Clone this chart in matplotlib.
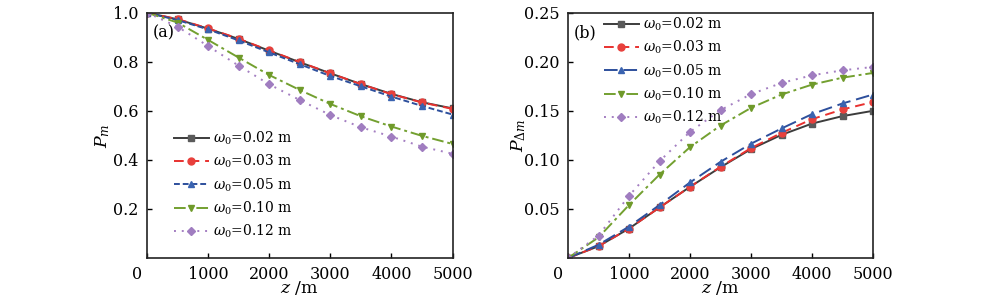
import matplotlib
matplotlib.use("Agg")
import matplotlib.pyplot as plt
import matplotlib.transforms as mtransforms

plt.rcParams['font.family'] = ['DejaVu Serif']
plt.rcParams['mathtext.fontset'] = 'dejavuserif'

z = [0, 500, 1000, 1500, 2000, 2500, 3000, 3500, 4000, 4500, 5000]
labels = [r'$\omega_0$=0.02 m', r'$\omega_0$=0.03 m', r'$\omega_0$=0.05 m',
          r'$\omega_0$=0.10 m', r'$\omega_0$=0.12 m']

# Panel (a): P_m
pm_002 = [1.0, 0.973, 0.935, 0.893, 0.845, 0.798, 0.753, 0.709, 0.669, 0.635, 0.610]
pm_003 = [1.0, 0.974, 0.936, 0.894, 0.846, 0.799, 0.753, 0.709, 0.668, 0.634, 0.608]
pm_005 = [1.0, 0.970, 0.932, 0.887, 0.838, 0.790, 0.742, 0.700, 0.658, 0.620, 0.585]
pm_010 = [1.0, 0.960, 0.889, 0.817, 0.746, 0.685, 0.628, 0.578, 0.536, 0.498, 0.465]
pm_012 = [1.0, 0.943, 0.864, 0.784, 0.708, 0.644, 0.583, 0.533, 0.495, 0.454, 0.425]

# Panel (b): P_delta_m
pd_002 = [0.0, 0.012, 0.030, 0.0515, 0.0725, 0.0925, 0.111, 0.1255, 0.137, 0.1446, 0.150]
pd_003 = [0.0, 0.012, 0.030, 0.0515, 0.0725, 0.093, 0.112, 0.1275, 0.1415, 0.1514, 0.159]
pd_005 = [0.0, 0.0135, 0.032, 0.054, 0.077, 0.098, 0.1165, 0.132, 0.1466, 0.1575, 0.1666]
pd_010 = [0.0, 0.021, 0.054, 0.085, 0.113, 0.135, 0.153, 0.1666, 0.1767, 0.1838, 0.1886]
pd_012 = [0.0, 0.0228, 0.0634, 0.0986, 0.1286, 0.1507, 0.1670, 0.1784, 0.1862, 0.1913, 0.1947]

colors = ['#3c3c3c', '#e8312f', '#2d4f9c', '#73a030', '#a47fc2']
mfcs = ['#5a5a5a', '#e8403c', '#3a63b0', '#6f9a2a', '#a07dc0']
markers = ['s', 'o', '^', 'v', 'D']
msizes = [4.5, 5, 5, 5, 4.5]
styles_a = ['-', (0, (5, 3)), (0, (3, 1.5)), (0, (6, 2, 1.5, 2)), (0, (1, 3))]
styles_b = ['-', (0, (5, 3)), (0, (7, 3)), (0, (6, 2, 1.5, 2)), (0, (1, 3))]

fig = plt.figure(figsize=(10, 2.99), dpi=100)
axa = fig.add_axes([0.147, 0.1371, 0.3055, 0.8204])
axb = fig.add_axes([0.568, 0.1371, 0.305, 0.8204])

def draw(ax, series, styles):
    for i, ys in enumerate(series):
        ax.plot(z, ys, color=colors[i], linestyle=styles[i], linewidth=1.4,
                marker=markers[i], markersize=msizes[i], markerfacecolor=mfcs[i],
                markeredgecolor=mfcs[i], label=labels[i])
    ax.set_xlim(0, 5000)
    ax.set_xticks([0, 1000, 2000, 3000, 4000, 5000])
    ax.tick_params(direction='in', length=3.5, width=1, labelsize=11.5, pad=6)
    for sp in ax.spines.values():
        sp.set_linewidth(1.2)
        sp.set_color('#222222')
    ax.set_xlabel(r'$z$ /m', fontsize=12.5, labelpad=-3)
    lbl = ax.get_xticklabels()[0]
    lbl.set_transform(lbl.get_transform() + mtransforms.ScaledTranslation(-10/100, 0, fig.dpi_scale_trans))

leg_kw = dict(frameon=False, fontsize=10, handlelength=2.5, handletextpad=0.3,
              labelspacing=0.42)

draw(axa, [pm_002, pm_003, pm_005, pm_010, pm_012], styles_a)
axa.set_ylim(0, 1.0)
axa.set_yticks([0.2, 0.4, 0.6, 0.8, 1.0])
axa.set_yticklabels(['0.2', '0.4', '0.6', '0.8', '1.0'])
axa.set_ylabel(r'$P_m$', fontsize=12.5, labelpad=1)
axa.text(0.02, 0.90, '(a)', transform=axa.transAxes, fontsize=11.5)
axa.legend(loc='lower left', bbox_to_anchor=(0.07, 0.05), borderaxespad=0.0, **leg_kw)

draw(axb, [pd_002, pd_003, pd_005, pd_010, pd_012], styles_b)
axb.set_ylim(0, 0.25)
axb.set_yticks([0.05, 0.10, 0.15, 0.20, 0.25])
axb.set_yticklabels(['0.05', '0.10', '0.15', '0.20', '0.25'])
axb.set_ylabel(r'$P_{\Delta m}$', fontsize=12.5, labelpad=-3)
axb.text(0.02, 0.90, '(b)', transform=axb.transAxes, fontsize=11.5)
axb.legend(loc='upper left', bbox_to_anchor=(0.1, 1.01), borderaxespad=0.0, **leg_kw)

fig.savefig('out.png', dpi=100)
